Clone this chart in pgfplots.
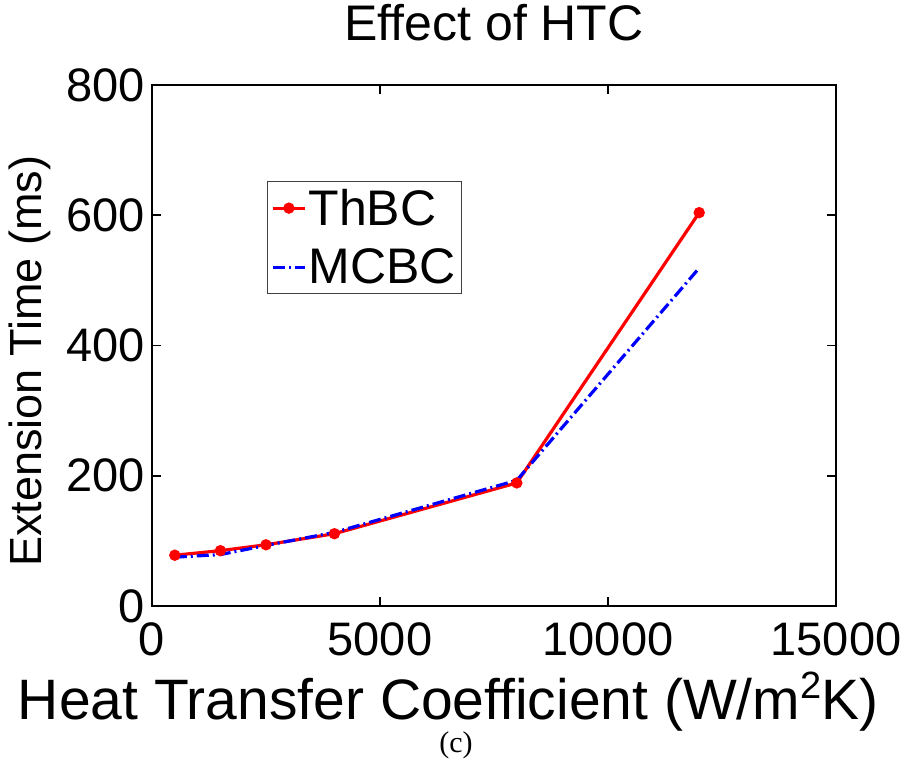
\documentclass[border=0pt]{standalone}
\usepackage{fontspec}
\setmainfont{Liberation Sans}
\newfontfamily\capfont{Liberation Serif}
\usepackage{pgfplots}
\pgfplotsset{compat=1.18}

\pgfplotstableread{
x      y
500    78
1500   85
2500   94
4000   111
8000   189
12000  604
}\thbc

\pgfplotstableread{
x      y
500    75
1500   79
2500   93
4000   113
8000   193
12000  519
}\mcbc

\begin{document}
\begin{tikzpicture}[x=1pt,y=1pt]
\useasboundingbox (-152,-165) rectangle (757,606);
\begin{axis}[
  at={(0,0)}, anchor=south west,
  scale only axis, width=684pt, height=521pt,
  xmin=0, xmax=15000, ymin=0, ymax=800,
  xtick={0,5000,10000,15000},
  ytick={0,200,400,600,800},
  scaled x ticks=false,
  /pgf/number format/assume math mode=true,
  /pgf/number format/1000 sep={},
  tick align=inside,
  major tick length=9pt,
  tick style={line width=1.6pt, black},
  axis line style={line width=2.4pt},
  ticklabel style={font=\fontsize{47}{56}\selectfont, inner sep=0pt},
  yticklabel style={xshift=-7pt},
  xticklabel style={yshift=-16pt},
  title={Effect of HTC},
  title style={font=\fontsize{50}{60}\selectfont, at={(axis description cs:0.5,1)}, anchor=base, yshift=38pt},
  xlabel={Heat Transfer Coefficient (W/m\raisebox{0.36em}{\fontsize{38}{42}\selectfont 2}K)},
  xlabel style={font=\fontsize{57}{66}\selectfont, at={(axis description cs:0.433,0)}, anchor=base, yshift=-113pt},
  ylabel={Extension Time (ms)},
  ylabel style={font=\fontsize{45}{54}\selectfont, at={([xshift=-110pt]axis description cs:0,0.47)}, anchor=base},
  legend style={at={(axis description cs:0.168,0.816)}, anchor=north west,
    font=\fontsize{50}{60}\selectfont, draw=black!75, line width=0.8pt,
    inner xsep=4pt, inner ysep=6pt, row sep=18pt},
  legend cell align=left,
]
\addplot[red, line width=3.2pt, mark=*, mark size=4pt, mark options={solid},
  legend image code/.code={\draw[red, line width=3.2pt] (0pt,0pt) -- (32pt,0pt); \fill[red] (16pt,0pt) circle (4pt);}]
  table[x=x,y=y]{\thbc};
\addlegendentry{ThBC}
\addplot[blue, line width=3.2pt, dash pattern=on 12pt off 4pt on 2pt off 4pt,
  legend image code/.code={\draw[blue, line width=3.2pt, dash pattern=on 12pt off 4pt on 2pt off 4pt] (0pt,0pt) -- (32pt,0pt);}]
  table[x=x,y=y]{\mcbc};
\addlegendentry{MCBC}
\end{axis}
\node[font=\capfont\fontsize{30}{36}\selectfont] at (304,-139) {(c)};
\end{tikzpicture}
\end{document}
